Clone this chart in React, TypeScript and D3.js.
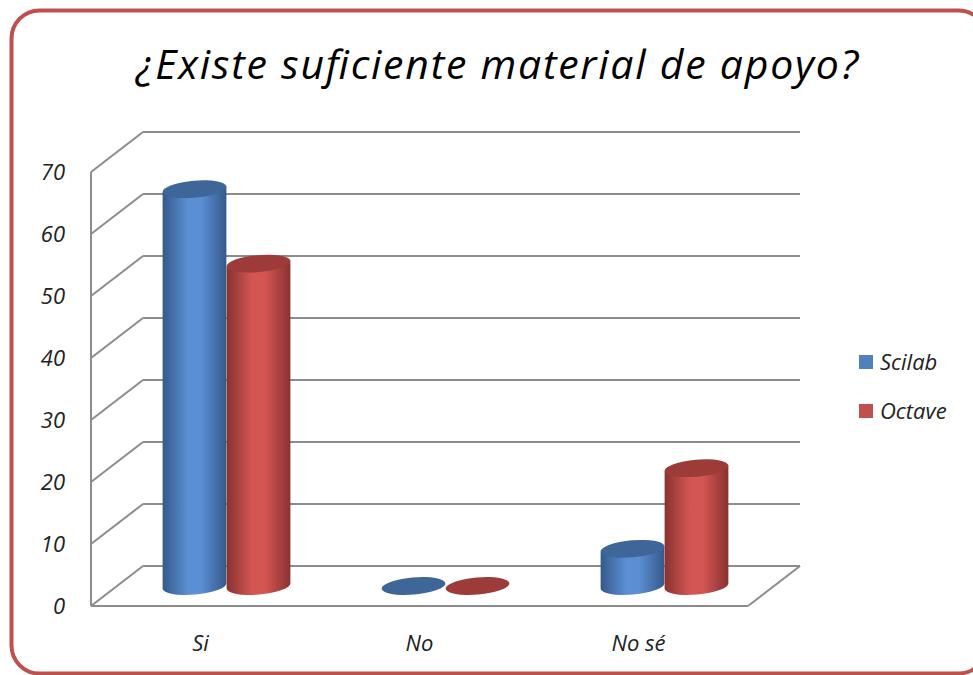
import React from 'react';
import * as d3 from 'd3';

const categories = ['Si', 'No', 'No sé'];
const seriesNames = ['Scilab', 'Octave'];
const scilabValues = [64, 0, 6];
const octaveValues = [52, 0, 19];
const yTicks = [0, 10, 20, 30, 40, 50, 60, 70];

const W = 973;
const H = 675;
// floor front edge and depth offset of the 3D box
const left = 91;
const right = 748;
const bottom = 606;
const top = 172;
const depth = { dx: 52, dy: -40 };

const colors = [
  { light: '#5b8fd4', dark: '#35598a', top: '#3e6698', legend: '#4f81bd' },
  { light: '#d35653', dark: '#893230', top: '#9c3b38', legend: '#c0504d' },
];

const font = '"Open Sans", Lato, sans-serif';

const App = () => {
  const x = d3.scaleBand().domain(categories).range([left, right]);
  const y = d3.scaleLinear().domain([0, 70]).range([bottom, top]);
  const series = [scilabValues, octaveValues];

  const rx = 32;
  const ry = 8.5;
  const tilt = -5;
  const t = (tilt * Math.PI) / 180;
  const ex = rx * Math.cos(t);
  const ey = rx * Math.sin(t);

  // bars sit half way into the box
  const midDx = depth.dx / 2;
  const midDy = depth.dy / 2;

  const cylinders: any[] = [];
  categories.forEach((c, ci) => {
    const cx0 = x(c)! + x.bandwidth() / 2 + midDx;
    series.forEach((vals, si) => {
      const cx = cx0 + (si === 0 ? -rx : rx);
      const yb = y(0) + midDy;
      const yt = y(vals[ci]) + midDy;
      cylinders.push({ key: `${ci}-${si}`, cx, yb, yt, si });
    });
  });

  return (
    <svg width={W} height={H} style={{ position: 'absolute', left: 0, top: 0, background: '#fff' }}>
      <defs>
        {colors.map((col, i) => (
          <linearGradient key={i} id={`grad${i}`} x1="0" x2="1" y1="0" y2="0">
            <stop offset="0" stopColor={col.dark} />
            <stop offset="0.4" stopColor={col.light} />
            <stop offset="0.6" stopColor={col.light} />
            <stop offset="1" stopColor={col.dark} />
          </linearGradient>
        ))}
      </defs>

      <rect x={11.5} y={10.5} width={975} height={663} rx={28} fill="#fff" stroke="#c0504d" strokeWidth={4} />

      <text x={497} y={79} textAnchor="middle" fontFamily={font} fontStyle="italic" fontSize={41} fill="#000" textLength={722}>
        ¿Existe suficiente material de apoyo?
      </text>

      {/* walls */}
      <g stroke="#8c8c8c" strokeWidth={2} fill="none">
        {yTicks.map(v => (
          <g key={v}>
            <line x1={left} y1={y(v)} x2={left + depth.dx} y2={y(v) + depth.dy} />
            <line x1={left + depth.dx} y1={y(v) + depth.dy} x2={right + depth.dx} y2={y(v) + depth.dy} />
          </g>
        ))}
        <line x1={left} y1={y(70)} x2={left} y2={y(0)} />
        <line x1={left} y1={y(0)} x2={right} y2={y(0)} />
        <line x1={right} y1={y(0)} x2={right + depth.dx} y2={y(0) + depth.dy} />
      </g>

      {yTicks.map(v => (
        <text key={v} x={65} y={y(v) + 8} textAnchor="end" fontFamily={font} fontStyle="italic" fontSize={22} fill="#222">
          {v}
        </text>
      ))}

      {categories.map(c => (
        <text key={c} x={x(c)! + x.bandwidth() / 2} y={651} textAnchor="middle" fontFamily={font} fontStyle="italic" fontSize={22} fill="#222">
          {c}
        </text>
      ))}

      {cylinders.map(d => {
        const col = colors[d.si];
        const body =
          `M${d.cx - ex},${d.yt - ey} L${d.cx - ex},${d.yb - ey} ` +
          `A${rx},${ry} ${tilt} 0 0 ${d.cx + ex},${d.yb + ey} ` +
          `L${d.cx + ex},${d.yt + ey} Z`;
        return (
          <g key={d.key}>
            {d.yb - d.yt > 0.5 && <path d={body} fill={`url(#grad${d.si})`} />}
            <ellipse cx={d.cx} cy={d.yt} rx={rx} ry={ry} fill={col.top} transform={`rotate(${tilt},${d.cx},${d.yt})`} />
          </g>
        );
      })}

      {seriesNames.map((s, i) => (
        <g key={s} transform={`translate(859,${355 + i * 49})`}>
          <rect width={14} height={14} fill={colors[i].legend} />
          <text x={21} y={15} fontFamily={font} fontStyle="italic" fontSize={22} fill="#222">
            {s}
          </text>
        </g>
      ))}
    </svg>
  );
};

export default App;
